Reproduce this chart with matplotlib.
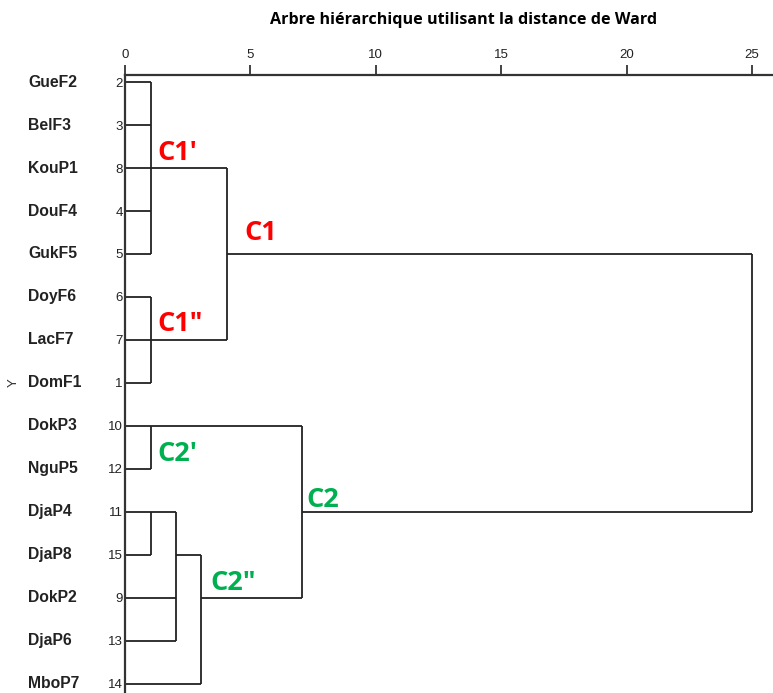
import matplotlib
matplotlib.use('Agg')
from matplotlib import pyplot as plt

# leaves in the displayed order (top to bottom)
labels = ['GueF2', 'BelF3', 'KouP1', 'DouF4', 'GukF5', 'DoyF6', 'LacF7', 'DomF1',
          'DokP3', 'NguP5', 'DjaP4', 'DjaP8', 'DokP2', 'DjaP6', 'MboP7']
case_numbers = ['2', '3', '8', '4', '5', '6', '7', '1',
                '10', '12', '11', '15', '9', '13', '14']

# merges: children (leaf index or 'name' of earlier merge), rescaled distance
merge_names = ['A', 'B', 'C1', 'D', 'E', 'F', 'G', 'C2', 'root']
merge_children = [[0, 1, 2, 3, 4], [5, 6, 7], ['A', 'B'], [8, 9], [10, 11],
                  ['E', 12, 13], ['F', 14], ['D', 'G'], ['C1', 'C2']]
merge_dist = [1.04, 1.04, 4.07, 1.04, 1.04, 2.04, 3.04, 7.06, 25.0]

ticks = [0, 5, 10, 15, 20, 25]

# cluster annotations: text, colour, anchor (distance, row)
ann_text = ["C1'", 'C1"', 'C1', "C2'", 'C2', 'C2"']
ann_color = ['#ff0000', '#ff0000', '#ff0000', '#00b050', '#00b050', '#00b050']
ann_x = [1.3, 1.3, 4.78, 1.3, 7.25, 3.4]
ann_y = [1.64, 5.63, 3.51, 8.65, 9.72, 11.66]

W, H = 773, 693
fig = plt.figure(figsize=(W / 100, H / 100), dpi=100)
ax = fig.add_axes([125 / W, 0, 1 - 125 / W, 1 - 75 / H])

line_kw = dict(color='#222222', lw=1.3, solid_capstyle='butt')
pos = {}
for name, kids, d in zip(merge_names, merge_children, merge_dist):
    rows = []
    for k in kids:
        if isinstance(k, str):
            r, x0 = pos[k]
        else:
            r, x0 = k, 0.0
        rows.append(r)
        ax.plot([x0, d], [r, r], **line_kw)
    ax.plot([d, d], [min(rows), max(rows)], **line_kw)
    pos[name] = ((min(rows) + max(rows)) // 2, d)

for t, c, x, y in zip(ann_text, ann_color, ann_x, ann_y):
    ax.text(x, y, t, color=c, fontsize=19.5, fontweight='bold',
            family='Open Sans', va='center', ha='left')

ax.set_xlim(0, 25.84)
ax.set_ylim(14.21, -0.163)
ax.xaxis.tick_top()
ax.set_xticks(ticks)
ax.tick_params(axis='x', direction='out', length=7, width=1.2, pad=3,
               labelsize=9.5, colors='#222222')
ax.set_yticks(range(len(labels)))
ax.set_yticklabels(case_numbers)
ax.tick_params(axis='y', length=0, pad=1.5, labelsize=9.5, colors='#222222')
for lab in ax.get_xticklabels() + ax.get_yticklabels():
    lab.set_family('Liberation Sans')

for i, lab in enumerate(labels):
    ax.text(-3.87, i, lab, ha='left', va='center', fontsize=11.3,
            fontweight='bold', family='Liberation Sans', color='#222222')

ax.spines['right'].set_visible(False)
ax.spines['bottom'].set_visible(False)
ax.spines['top'].set_linewidth(1.6)
ax.spines['left'].set_linewidth(1.6)
ax.spines['top'].set_color('#333333')
ax.spines['left'].set_color('#333333')

fig.text(14 / W, 1 - 383 / H, 'Y', rotation=90, ha='center', va='center',
         fontsize=9.5, family='Liberation Sans', color='#333333')
fig.text(464 / W, 1 - 20 / H, 'Arbre hiérarchique utilisant la distance de Ward',
         ha='center', va='center', fontsize=11.6, fontweight='bold',
         family='Open Sans')

fig.savefig('out.png', dpi=100)
